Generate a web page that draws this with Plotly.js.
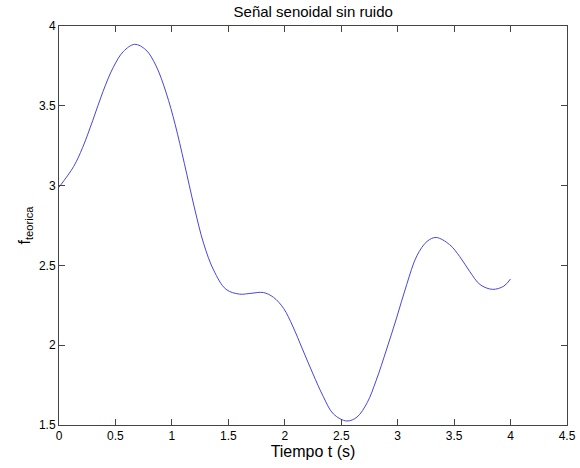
<!DOCTYPE html>
<html>
<head>
<meta charset="utf-8">
<script src="https://cdn.plot.ly/plotly-3.0.1.min.js"></script>
<style>html,body{margin:0;padding:0;background:#fff;}#chart{width:580px;height:468px;}</style>
</head>
<body>
<div id="chart"></div>
<script>
const tiempo = [0, 0.13, 0.21, 0.30, 0.39, 0.48, 0.57, 0.67, 0.77, 0.86, 0.95, 1.03, 1.11, 1.20, 1.28, 1.37, 1.48, 1.60, 1.70, 1.81, 1.90, 1.99, 2.07, 2.16, 2.25, 2.34, 2.43, 2.55, 2.64, 2.73, 2.81, 2.90, 2.99, 3.08, 3.17, 3.26, 3.34, 3.46, 3.55, 3.64, 3.73, 3.84, 3.94, 4.0];
const fTeorica = [2.99, 3.12, 3.24, 3.41, 3.59, 3.74, 3.84, 3.885, 3.85, 3.75, 3.58, 3.38, 3.14, 2.86, 2.64, 2.47, 2.35, 2.32, 2.325, 2.33, 2.30, 2.23, 2.12, 1.97, 1.82, 1.68, 1.57, 1.525, 1.55, 1.64, 1.78, 1.97, 2.17, 2.38, 2.56, 2.65, 2.675, 2.63, 2.555, 2.46, 2.38, 2.35, 2.37, 2.415];
const xTicks = [0, 0.5, 1, 1.5, 2, 2.5, 3, 3.5, 4, 4.5];
const xTickLabels = ['0', '0.5', '1', '1.5', '2', '2.5', '3', '3.5', '4', '4.5'];
const yTicks = [1.5, 2, 2.5, 3, 3.5, 4];
const yTickLabels = ['1.5', '2', '2.5', '3', '3.5', '4'];

const font = 'Liberation Sans, Arial, Helvetica, sans-serif';
const axisCommon = {
  showgrid: false, zeroline: false, showline: true, mirror: 'ticks',
  linecolor: '#444', linewidth: 1, ticks: 'inside', ticklen: 6, tickcolor: '#444',
  tickfont: {family: font, size: 12, color: '#000'}
};

const data = [{
  x: tiempo, y: fTeorica, type: 'scatter', mode: 'lines',
  line: {color: '#4646dc', width: 1, shape: 'spline', smoothing: 1},
  hoverinfo: 'skip'
}];

const layout = {
  width: 580, height: 468,
  margin: {l: 59, r: 13, t: 26, b: 43, pad: 0},
  paper_bgcolor: '#fff', plot_bgcolor: '#fff',
  showlegend: false,
  title: {text: 'Señal senoidal sin ruido', font: {family: font, size: 15, color: '#000'},
          x: 0.54, xanchor: 'center', y: 1 - 12/468, yref: 'container', yanchor: 'middle'},
  xaxis: Object.assign({}, axisCommon, {
    range: [0, 4.5], tickvals: xTicks, ticktext: xTickLabels,
    title: {text: 'Tiempo t (s)', font: {family: font, size: 16, color: '#000'}, standoff: 0}
  }),
  yaxis: Object.assign({}, axisCommon, {
    range: [1.5, 4], tickvals: yTicks, ticktext: yTickLabels,
    title: {text: 'f<sub>teorica</sub>', font: {family: font, size: 16, color: '#000'}, standoff: 4}
  })
};

Plotly.newPlot('chart', data, layout, {staticPlot: true, displayModeBar: false});
</script>
</body>
</html>
